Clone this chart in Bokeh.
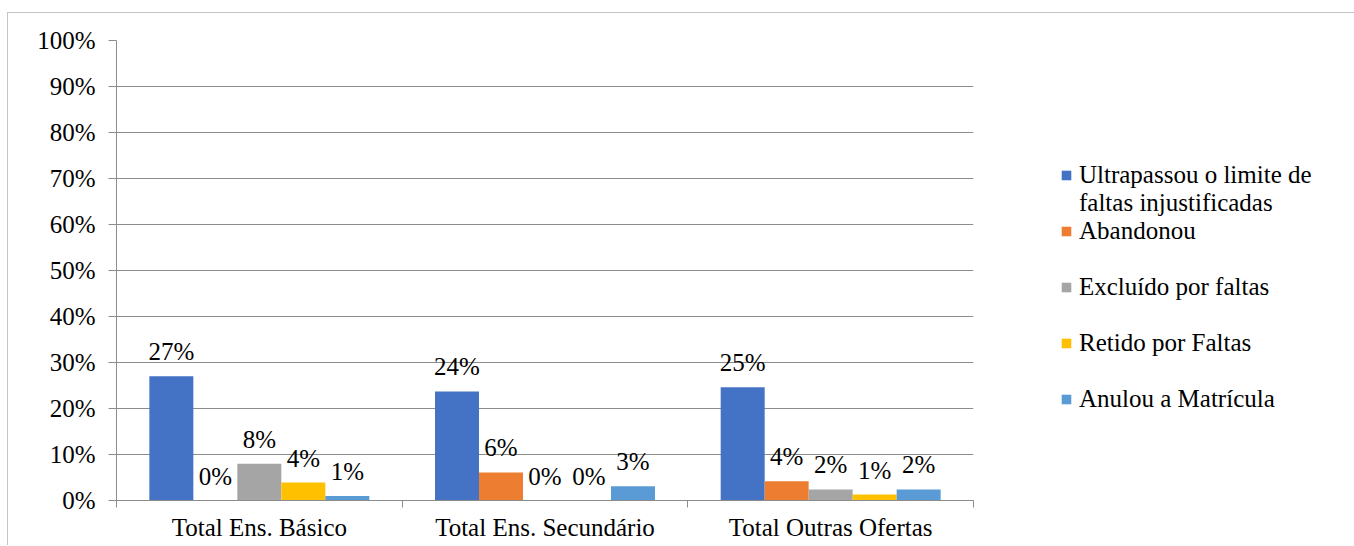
from bokeh.plotting import figure
from bokeh.models import (ColumnDataSource, Range1d, FixedTicker, NumeralTickFormatter,
                          LabelSet, Legend, LegendItem)
from bokeh.transform import dodge
from bokeh.embed import file_html
from bokeh.resources import INLINE

# ---- data ----
categories = ["Total Ens. Básico", "Total Ens. Secundário", "Total Outras Ofertas"]
series_names = ["Ultrapassou o limite de faltas injustificadas", "Abandonou",
                "Excluído por faltas", "Retido por Faltas", "Anulou a Matrícula"]
ultrapassou = [0.270, 0.237, 0.246]
abandonou = [0.000, 0.061, 0.042]
excluido = [0.080, 0.000, 0.024]
retido = [0.039, 0.000, 0.013]
anulou = [0.010, 0.031, 0.024]
yticks = [0, 0.1, 0.2, 0.3, 0.4, 0.5, 0.6, 0.7, 0.8, 0.9, 1.0]

series_values = [ultrapassou, abandonou, excluido, retido, anulou]
colors = ["#4472C4", "#ED7D31", "#A5A5A5", "#FFC000", "#5B9BD5"]

FONT = "Liberation Serif"
FS = "25px"

p = figure(frame_width=857, frame_height=460, output_backend="svg", toolbar_location=None,
           x_range=Range1d(0, len(categories)), y_range=Range1d(0, 1),
           min_border_left=108, min_border_right=26, min_border_top=27,
           min_border_bottom=45, margin=(12, 0, 0, 7),
           styles={"border-left": "1px solid #c4c4c4", "border-top": "1px solid #c4c4c4"})
p.outline_line_color = None
p.background_fill_color = "white"
p.border_fill_color = "white"

centers = [i + 0.5 for i in range(len(categories))]
bw = 0.154
offsets = [-2 * bw, -bw, 0.0, bw, 2 * bw]

renderers = []
for vals, col, off in zip(series_values, colors, offsets):
    src = ColumnDataSource(dict(x=centers, top=vals,
                                lab=["%d%%" % round(v * 100) for v in vals]))
    r = p.vbar(x=dodge("x", off, range=p.x_range), top="top", width=bw, source=src,
               fill_color=col, line_color=None)
    renderers.append(r)
    ls = LabelSet(x=dodge("x", off, range=p.x_range), y="top", text="lab", source=src,
                  y_offset=16, text_align="center", text_baseline="alphabetic",
                  text_font=FONT, text_font_size=FS, text_color="black")
    p.add_layout(ls)

dummy = p.vbar(x=[], top=[], width=bw, fill_alpha=0, line_alpha=0)

# axes
p.xgrid.visible = False
p.ygrid.grid_line_color = "#8c8c8c"
p.ygrid.grid_line_width = 1
p.ygrid.ticker = FixedTicker(ticks=yticks)

ya = p.yaxis[0]
ya.ticker = FixedTicker(ticks=yticks, minor_ticks=[])
ya.formatter = NumeralTickFormatter(format="0%")
ya.axis_line_color = "#8c8c8c"
ya.major_tick_line_color = "#8c8c8c"
ya.major_tick_out = 8
ya.major_tick_in = 0
ya.minor_tick_line_color = None
ya.major_label_standoff = 13
ya.major_label_text_font = FONT
ya.major_label_text_font_size = FS
ya.major_label_text_color = "black"

xa = p.xaxis[0]
xa.ticker = FixedTicker(ticks=centers, minor_ticks=list(range(len(categories) + 1)))
xa.major_label_overrides = {c: n for c, n in zip(centers, categories)}
xa.axis_line_color = "#8c8c8c"
xa.major_tick_line_color = None
xa.major_tick_out = 0
xa.major_tick_in = 0
xa.minor_tick_line_color = "#8c8c8c"
xa.minor_tick_out = 7
xa.minor_tick_in = 0
xa.major_label_standoff = 6
xa.major_label_text_font = FONT
xa.major_label_text_font_size = FS
xa.major_label_text_color = "black"

# legend (rows with blank spacers to mimic the original spacing)
items = [
    LegendItem(label="Ultrapassou o limite de", renderers=[renderers[0]]),
    LegendItem(label="faltas injustificadas", renderers=[dummy]),
    LegendItem(label="Abandonou", renderers=[renderers[1]]),
    LegendItem(label="\u00a0", renderers=[dummy]),
    LegendItem(label="Excluído por faltas", renderers=[renderers[2]]),
    LegendItem(label="\u00a0", renderers=[dummy]),
    LegendItem(label="Retido por Faltas", renderers=[renderers[3]]),
    LegendItem(label="\u00a0", renderers=[dummy]),
    LegendItem(label="Anulou a Matrícula", renderers=[renderers[4]]),
]
legend = Legend(items=items, location=(87, 87), padding=0, margin=0, spacing=0,
                glyph_width=12, glyph_height=12, label_height=28, label_standoff=7,
                label_text_font=FONT, label_text_font_size=FS, label_text_color="black",
                border_line_color=None, background_fill_alpha=0)
p.add_layout(legend, "right")

open("out.html", "w").write(file_html(p, INLINE))
